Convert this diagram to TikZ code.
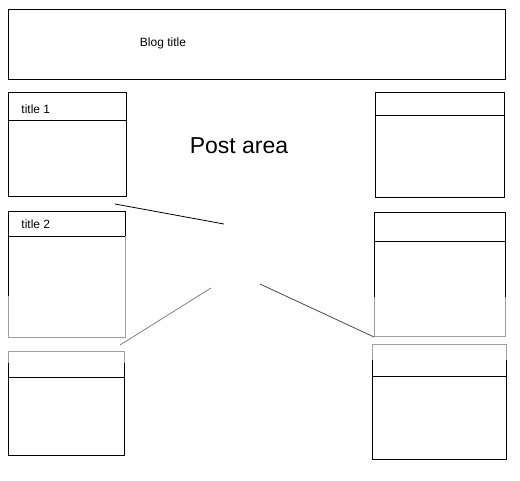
\documentclass[tikz,border=0pt]{standalone}
\usepackage{fontspec}
\setmainfont{Liberation Sans}
\usetikzlibrary{calc}
\begin{document}
\begin{tikzpicture}[x=1pt,y=-1pt,line width=0.9pt,
  box/.style={draw=black,inner sep=0pt,anchor=north west},
  fade/.style={draw=gray!75,line width=0.9pt},
  small/.style={font=\fontsize{12}{14}\selectfont,inner sep=0pt},
  big/.style={font=\fontsize{23}{26}\selectfont,inner sep=0pt},
  link/.style={draw=black,line width=0.8pt}]
\useasboundingbox (0,0) rectangle (520,480);
\fill[white] (0,0) rectangle (520,480);
% header
\node[box,minimum width=497pt,minimum height=70pt] (blog) at (8,9) {};
\node[small] (blogtxt) at (163,43) {Blog title};
\node[big] (post) at (239,146) {Post area};
% left column
\node[box,minimum width=118pt,minimum height=104pt] (l1) at (8,92) {};
\draw ($(l1.north west)+(0,28)$) -- ($(l1.north east)+(0,28)$);
\node[small,anchor=west] (t1) at (21,109) {title 1};
\node[box,minimum width=117pt,minimum height=126pt] (l2) at (8,211) {};
\draw ($(l2.north west)+(0,25)$) -- ($(l2.north east)+(0,25)$);
\draw[fade] ($(l2.south west)+(0,-42)$) -- (l2.south west) -- (l2.south east) -- ($(l2.north east)+(0,25)$);
\node[small,anchor=west] (t2) at (21,224) {title 2};
\node[box,minimum width=116pt,minimum height=104pt] (l3) at (8,351) {};
\draw ($(l3.north west)+(0,26)$) -- ($(l3.north east)+(0,26)$);
\draw[fade] ($(l3.north west)+(0,12)$) -- (l3.north west) -- (l3.north east) -- ($(l3.north east)+(0,12)$);
% right column
\node[box,minimum width=129pt,minimum height=105pt] (r1) at (375,92) {};
\draw ($(r1.north west)+(0,23)$) -- ($(r1.north east)+(0,23)$);
\node[box,minimum width=131pt,minimum height=124pt] (r2) at (374,212) {};
\draw ($(r2.north west)+(0,29)$) -- ($(r2.north east)+(0,29)$);
\draw[fade] ($(r2.south west)+(0,-40)$) -- (r2.south west) -- (r2.south east) -- ($(r2.south east)+(0,-40)$);
\node[box,minimum width=134pt,minimum height=115pt] (r3) at (372,344) {};
\draw ($(r3.north west)+(0,32)$) -- ($(r3.north east)+(0,32)$);
\draw[fade] ($(r3.north west)+(0,16)$) -- (r3.north west) -- (r3.north east) -- ($(r3.north east)+(0,16)$);
% connectors
\coordinate (c1) at (224,224);
\coordinate (c2) at (211,288);
\coordinate (c3) at (260,284);
\coordinate (s1) at (115,204);
\coordinate (s2) at (120,345);
\coordinate (s3) at (374,337);
\draw[link] (s1) -- (c1);
\draw[link,draw=gray] (c2) -- (s2);
\draw[link,draw=gray!60!black] (c3) -- (s3);
\end{tikzpicture}
\end{document}
